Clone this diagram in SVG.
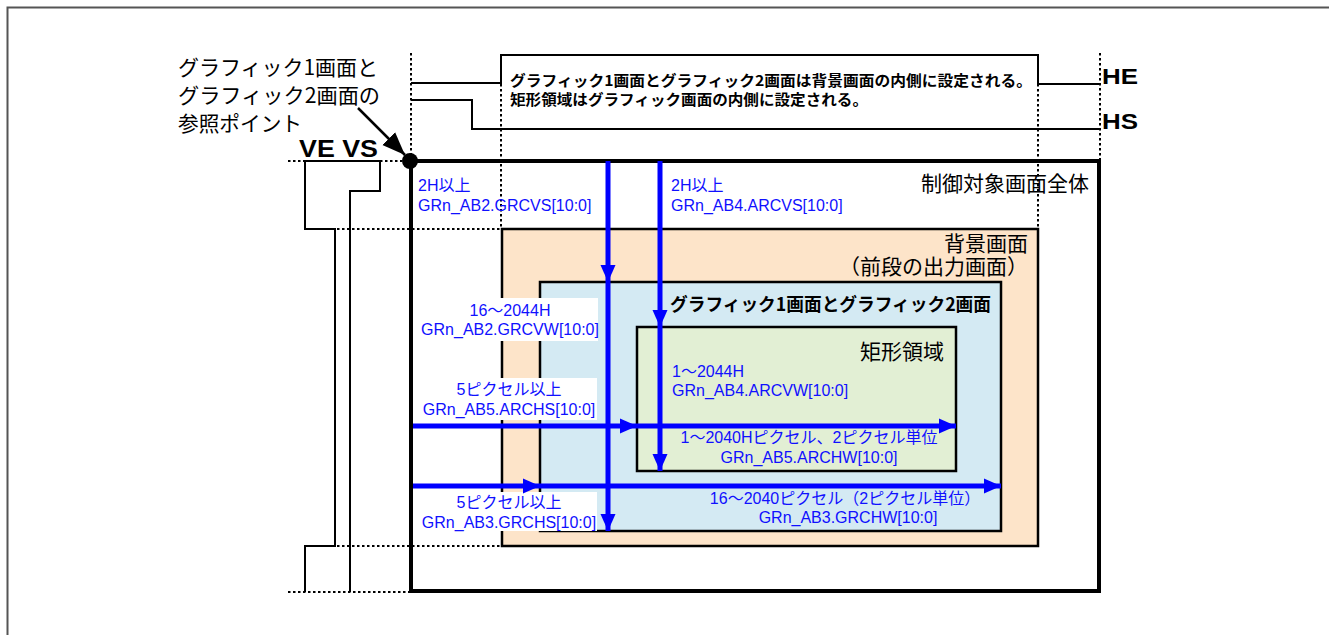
<svg xmlns="http://www.w3.org/2000/svg" width="1329" height="635" viewBox="0 0 1329 635">
<style>
.thin{stroke:#000;stroke-width:2;fill:none}
.dot{stroke:#000;stroke-width:2;stroke-dasharray:2.5 2.5;fill:none}
.arr{stroke:#0000ff;stroke-width:5;fill:none;marker-end:url(#ah)}
.jp{font-family:"Noto Sans CJK JP",sans-serif;fill:#000}
.lat{font-family:"Liberation Sans",Arial,sans-serif;font-weight:bold;fill:#000}
.blue{font-family:"Liberation Sans","Noto Sans CJK JP",sans-serif;font-size:16px;fill:#1010ff}
.wb{fill:#fff;stroke:none}
</style>
<defs>
<marker id="ah" markerUnits="userSpaceOnUse" markerWidth="18" markerHeight="16" refX="17" refY="8" orient="auto">
<path d="M0,0.5 L17,8 L0,15.5 z" fill="#0000ff"/>
</marker>
<marker id="bk" markerUnits="userSpaceOnUse" markerWidth="24" markerHeight="20" refX="23" refY="10" orient="auto">
<path d="M0,1 L23,10 L0,19 z" fill="#000"/>
</marker>
</defs>
<rect width="1329" height="635" fill="#fff"/>
<path d="M7.5,635 V7.5 H1329" stroke="#555" stroke-width="2" fill="none"/>

<g id="timing">
<path class="dot" d="M411,53 V158 M501,84 V229 M1038,84 V229 M1100,53 V161"/>
<path class="dot" d="M288,161 H305 M380,161 H402 M337,229 H502 M337,546 H502 M288,592 H409"/>
<path class="thin" d="M411,83 H501 V55 H1038 V84 H1100"/>
<path class="thin" d="M411,100 H472 V129 H1100"/>
<path class="thin" d="M305,161 H380 V191 H350 V592"/>
<path class="thin" d="M305,161 V229 H335 V546 H305 V592"/>
</g>

<g id="main-screen">
<rect x="411" y="161" width="688" height="430" fill="none" stroke="#000" stroke-width="4"/>
<text class="jp" x="1089" y="191" font-size="21" text-anchor="end">制御対象画面全体</text>
</g>

<g id="background">
<rect x="502" y="229" width="536" height="317" fill="#fde4c9" stroke="#000" stroke-width="2.5"/>
<text class="jp" font-size="21" text-anchor="end"><tspan x="1028" y="251">背景画面</tspan><tspan x="1028" y="274">（前段の出力画面）</tspan></text>
</g>

<g id="graphics">
<rect x="540" y="282" width="461" height="249" fill="#d4eaf3" stroke="#000" stroke-width="2.5"/>
<text class="jp" x="670" y="311" font-size="18" font-weight="bold" textLength="321" lengthAdjust="spacingAndGlyphs">グラフィック1画面とグラフィック2画面</text>
</g>

<g id="rect-area">
<rect x="637" y="327" width="319" height="144" fill="#e2efd4" stroke="#000" stroke-width="2.5"/>
<text class="jp" x="944" y="359" font-size="21" text-anchor="end">矩形領域</text>
</g>

<g id="label-boxes">
<rect class="wb" x="414" y="298" width="184" height="43"/>
<rect class="wb" x="414" y="378" width="183" height="42"/>
<rect class="wb" x="414" y="492" width="183" height="39"/>
</g>

<g id="connectors">
<line class="arr" x1="608" y1="161" x2="608" y2="282"/>
<line class="arr" x1="608" y1="282" x2="608" y2="531"/>
<line class="arr" x1="660" y1="161" x2="660" y2="327"/>
<line class="arr" x1="660" y1="327" x2="660" y2="471"/>
<line class="arr" x1="413" y1="426" x2="637" y2="426"/>
<line class="arr" x1="637" y1="426" x2="956" y2="426"/>
<line class="arr" x1="413" y1="486" x2="540" y2="486"/>
<line class="arr" x1="540" y1="486" x2="1001" y2="486"/>
<line x1="358" y1="108" x2="405" y2="155" stroke="#000" stroke-width="2.5" marker-end="url(#bk)"/>
</g>

<g id="ref-point">
<circle cx="410" cy="161" r="8" fill="#000"/>
<text class="jp" x="178" y="75" font-size="21" textLength="200" lengthAdjust="spacingAndGlyphs">グラフィック1画面と</text>
<text class="jp" x="178" y="103" font-size="21" textLength="202" lengthAdjust="spacingAndGlyphs">グラフィック2画面の</text>
<text class="jp" x="178" y="131" font-size="21" textLength="124" lengthAdjust="spacingAndGlyphs">参照ポイント</text>
</g>

<g id="signal-labels">
<text class="lat" x="299" y="157" font-size="24" textLength="79" lengthAdjust="spacingAndGlyphs">VE VS</text>
<text class="lat" x="1102" y="84" font-size="22" textLength="36" lengthAdjust="spacingAndGlyphs">HE</text>
<text class="lat" x="1102" y="129" font-size="22" textLength="36" lengthAdjust="spacingAndGlyphs">HS</text>
</g>

<g id="note">
<text class="jp" x="510" y="86" font-size="14.5" font-weight="bold" textLength="522" lengthAdjust="spacingAndGlyphs">グラフィック1画面とグラフィック2画面は背景画面の内側に設定される。</text>
<text class="jp" x="510" y="105" font-size="14.5" font-weight="bold" textLength="358" lengthAdjust="spacingAndGlyphs">矩形領域はグラフィック画面の内側に設定される。</text>
</g>

<g id="blue-labels">
<text class="blue" x="418" y="191">2H以上</text>
<text class="blue" x="418" y="211">GRn_AB2.GRCVS[10:0]</text>
<text class="blue" x="671" y="191">2H以上</text>
<text class="blue" x="671" y="211">GRn_AB4.ARCVS[10:0]</text>
<text class="blue" x="510" y="316" text-anchor="middle">16～2044H</text>
<text class="blue" x="510" y="335" text-anchor="middle">GRn_AB2.GRCVW[10:0]</text>
<text class="blue" x="509" y="395" text-anchor="middle">5ピクセル以上</text>
<text class="blue" x="509" y="415" text-anchor="middle">GRn_AB5.ARCHS[10:0]</text>
<text class="blue" x="509" y="508" text-anchor="middle">5ピクセル以上</text>
<text class="blue" x="509" y="528" text-anchor="middle">GRn_AB3.GRCHS[10:0]</text>
<text class="blue" x="672" y="377">1～2044H</text>
<text class="blue" x="672" y="396">GRn_AB4.ARCVW[10:0]</text>
<text class="blue" x="809" y="443" text-anchor="middle">1～2040Hピクセル、2ピクセル単位</text>
<text class="blue" x="809" y="463" text-anchor="middle">GRn_AB5.ARCHW[10:0]</text>
<text class="blue" x="845" y="504" text-anchor="middle">16～2040ピクセル（2ピクセル単位）</text>
<text class="blue" x="848" y="523" text-anchor="middle">GRn_AB3.GRCHW[10:0]</text>
</g>
</svg>
